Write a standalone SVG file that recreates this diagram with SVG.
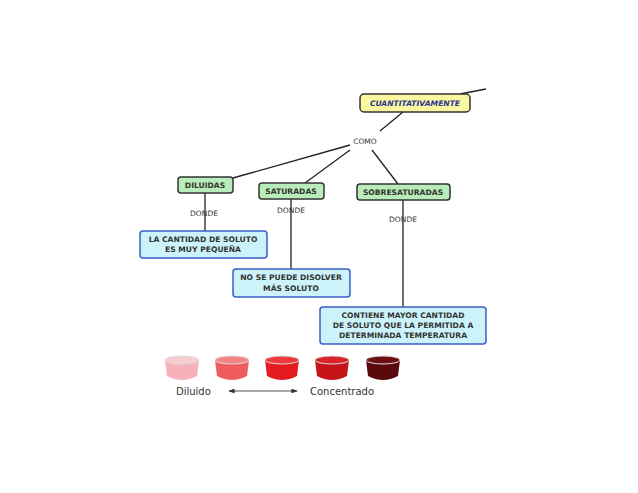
<svg xmlns="http://www.w3.org/2000/svg" width="638" height="493" viewBox="0 0 638 493">
<style>
.t{font-family:"DejaVu Sans",sans-serif;font-size:7.6px;font-weight:bold;text-anchor:middle;fill:#333}
.l{font-family:"DejaVu Sans",sans-serif;font-size:7.5px;text-anchor:middle;fill:#333}
.g{fill:#b8ecb8;stroke:#333;stroke-width:1.5}
.b{fill:#ccf3fa;stroke:#3a5fc8;stroke-width:1.5}
.c line{stroke:#222;stroke-width:1.3}
</style>
<defs><marker id="a" viewBox="0 0 8 6" refX="7" refY="3" markerWidth="8" markerHeight="6" orient="auto-start-reverse"><path d="M0,0L8,3L0,6z" fill="#333"/></marker></defs>
<rect width="638" height="493" fill="#fff"/>
<g class="c">
<line x1="460" y1="94" x2="486" y2="89"/>
<line x1="403" y1="112" x2="380" y2="131"/>
<line x1="350" y1="145" x2="233" y2="178"/>
<line x1="350" y1="150" x2="305" y2="183"/>
<line x1="372" y1="150" x2="398" y2="184"/>
<line x1="205" y1="193" x2="205" y2="231"/>
<line x1="291" y1="199" x2="291" y2="269"/>
<line x1="403" y1="200" x2="403" y2="307"/>
<line x1="229" y1="391" x2="297" y2="391" marker-start="url(#a)" marker-end="url(#a)" style="stroke-width:0.8"/>
</g>
<text class="l" x="365" y="144">COMO</text>
<text class="l" x="204" y="216">DONDE</text>
<text class="l" x="291" y="213">DONDE</text>
<text class="l" x="403" y="222">DONDE</text>
<g id="cuant"><rect x="360" y="94" width="110" height="18" rx="4" fill="#fbf6a0" stroke="#333" stroke-width="1.5"/><text class="t" x="415" y="106" style="fill:#2a3590;font-style:italic">CUANTITATIVAMENTE</text></g>
<g id="dil"><rect class="g" x="178" y="177" width="55" height="16" rx="3"/><text class="t" x="205" y="188">DILUIDAS</text></g>
<g id="sat"><rect class="g" x="259" y="183" width="65" height="16" rx="3"/><text class="t" x="291" y="194">SATURADAS</text></g>
<g id="sob"><rect class="g" x="357" y="184" width="93" height="16" rx="3"/><text class="t" x="403" y="195">SOBRESATURADAS</text></g>
<g id="b1"><rect class="b" x="140" y="231" width="127" height="27" rx="3"/><text class="t" x="203" y="242">LA CANTIDAD DE SOLUTO</text><text class="t" x="203" y="252">ES MUY PEQUEÑA</text></g>
<g id="b2"><rect class="b" x="233" y="269" width="117" height="28" rx="3"/><text class="t" x="291" y="280">NO SE PUEDE DISOLVER</text><text class="t" x="291" y="291">MÁS SOLUTO</text></g>
<g id="b3"><rect class="b" x="320" y="307" width="166" height="37" rx="3"/><text class="t" x="403" y="318">CONTIENE MAYOR CANTIDAD</text><text class="t" x="403" y="328">DE SOLUTO QUE LA PERMITIDA A</text><text class="t" x="403" y="338">DETERMINADA TEMPERATURA</text></g>
<g id="cups">
<g transform="translate(182,0)"><path d="M-17,360 L-15,376 Q0,384 15,376 L17,360 Z" fill="#f6b2b8"/><ellipse cx="0" cy="360" rx="17" ry="4" fill="#f9cdd0" stroke="#ddd"/></g>
<g transform="translate(232,0)"><path d="M-17,360 L-15,376 Q0,384 15,376 L17,360 Z" fill="#ef5c60"/><ellipse cx="0" cy="360" rx="17" ry="4" fill="#f48486" stroke="#ddd"/></g>
<g transform="translate(282,0)"><path d="M-17,360 L-15,376 Q0,384 15,376 L17,360 Z" fill="#e51a1e"/><ellipse cx="0" cy="360" rx="17" ry="4" fill="#ee3a3c" stroke="#ddd"/></g>
<g transform="translate(332,0)"><path d="M-17,360 L-15,376 Q0,384 15,376 L17,360 Z" fill="#c41418"/><ellipse cx="0" cy="360" rx="17" ry="4" fill="#d82428" stroke="#ddd"/></g>
<g transform="translate(383,0)"><path d="M-17,360 L-15,376 Q0,384 15,376 L17,360 Z" fill="#5a0a0c"/><ellipse cx="0" cy="360" rx="17" ry="4" fill="#6e1012" stroke="#ddd"/></g>
</g>
<text x="176" y="395" font-family="DejaVu Sans,sans-serif" font-size="10" fill="#333">Diluido</text>
<text x="310" y="395" font-family="DejaVu Sans,sans-serif" font-size="10" fill="#333">Concentrado</text>
</svg>
